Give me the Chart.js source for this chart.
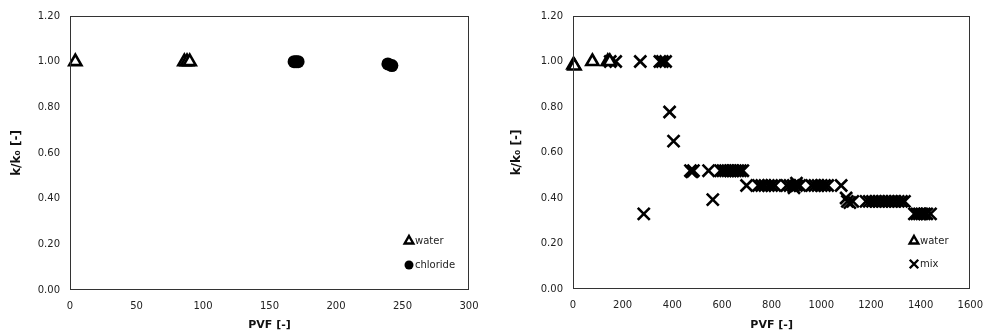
<!DOCTYPE html>
<html>
<head>
<meta charset="utf-8">
<script src="https://cdn.jsdelivr.net/npm/chart.js@4.4.1/dist/chart.umd.min.js"></script>
<style>
  html, body { margin: 0; padding: 0; background: #fff; }
  #wrap { position: relative; width: 993px; height: 336px; overflow: hidden; }
  canvas { position: absolute; top: 0; }
</style>
</head>
<body>
<div id="wrap">
  <canvas id="c1" width="496" height="336" style="left:0px"></canvas>
  <canvas id="c2" width="497" height="336" style="left:496px"></canvas>
</div>
<script>
// ---------- DATA ----------
// Left chart
const leftWaterPVF   = [4, 86, 88, 90];
const leftWaterK     = [1.00, 1.00, 1.00, 1.00];
const leftChloridePVF = [168.5, 170, 171.5, 239, 242];
const leftChlorideK   = [1.00, 1.00, 1.00, 0.99, 0.983];

// Right chart
const rightWaterPVF = [2, 6, 78, 140, 148];
const rightWaterK   = [0.985, 0.98, 1.00, 1.00, 1.00];
const rightMixPVF = [
  150, 172, 271, 350, 360, 373,
  389, 405, 285,
  473, 479, 485, 546, 594, 604, 614, 624, 634, 644, 654, 664, 674, 684,
  563,
  699, 747, 760, 773, 787, 800, 813, 861, 874, 887, 900, 913, 900, 890,
  961, 974, 987, 1000, 1013, 1026, 1080,
  1100, 1105, 1115, 1127, 1180, 1193, 1206, 1219, 1232, 1245, 1258, 1271, 1284, 1297, 1310, 1323, 1335,
  1375, 1385, 1395, 1405, 1415, 1425, 1440
];
const rightMixK = [
  1.00, 1.00, 1.00, 1.00, 1.00, 1.00,
  0.778, 0.65, 0.33,
  0.52, 0.515, 0.52, 0.52, 0.52, 0.52, 0.52, 0.52, 0.52, 0.52, 0.52, 0.52, 0.52, 0.52,
  0.393,
  0.455, 0.455, 0.455, 0.455, 0.455, 0.455, 0.455, 0.455, 0.455, 0.455, 0.455, 0.455, 0.465, 0.445,
  0.455, 0.455, 0.455, 0.455, 0.455, 0.455, 0.455,
  0.40, 0.385, 0.38, 0.385, 0.385, 0.385, 0.385, 0.385, 0.385, 0.385, 0.385, 0.385, 0.385, 0.385, 0.385, 0.385, 0.385,
  0.33, 0.33, 0.33, 0.33, 0.33, 0.33, 0.33
];

const yTicks = [0, 0.2, 0.4, 0.6, 0.8, 1.0, 1.2];
const xTitle = 'PVF [-]';
const yTitle = 'k/k\u2080 [-]';

// ---------- HELPERS ----------
function pts(xs, ys) { return xs.map((x, i) => ({ x: x, y: ys[i] })); }

const TICK_FONT = { family: 'DejaVu Sans', size: 10 };
const TITLE_FONT = { family: 'DejaVu Sans', size: 11, weight: 'bold' };
const YTITLE_FONT = { family: 'DejaVu Sans', size: 12, weight: 'bold' };

const boxPlugin = {
  id: 'box',
  afterDatasetsDraw(chart) {
    const a = chart.chartArea, ctx = chart.ctx;
    ctx.save();
    ctx.strokeStyle = '#333';
    ctx.lineWidth = 1;
    ctx.strokeRect(Math.round(a.left) + 0.5, Math.round(a.top) + 0.5,
                   Math.round(a.right - a.left) - 1, Math.round(a.bottom - a.top) - 1);
    ctx.restore();
  }
};

function drawSymbol(ctx, style, x, y, r) {
  ctx.save();
  ctx.strokeStyle = '#000';
  ctx.fillStyle = '#000';
  ctx.lineWidth = 2.4;
  ctx.beginPath();
  if (style === 'triangle') {
    ctx.moveTo(x, y - r);
    ctx.lineTo(x + r * Math.sin(2 * Math.PI / 3), y + r / 2);
    ctx.lineTo(x - r * Math.sin(2 * Math.PI / 3), y + r / 2);
    ctx.closePath();
    ctx.fillStyle = '#fff';
    ctx.fill();
    ctx.stroke();
  } else if (style === 'circle') {
    ctx.arc(x, y, r, 0, Math.PI * 2);
    ctx.fill();
  } else if (style === 'crossRot') {
    const o = r * Math.SQRT1_2;
    ctx.lineWidth = 2.4;
    ctx.moveTo(x - o, y - o); ctx.lineTo(x + o, y + o);
    ctx.moveTo(x + o, y - o); ctx.lineTo(x - o, y + o);
    ctx.stroke();
  }
  ctx.restore();
}

function legendPlugin(mx, tx, rows) {
  return {
    id: 'insideLegend',
    afterDraw(chart) {
      const ctx = chart.ctx;
      chart.data.datasets.forEach((ds, i) => {
        const y = rows[i];
        const st = ds.pointStyle;
        const r = st === 'crossRot' ? 6 : (st === 'circle' ? 4.5 : 5);
        drawSymbol(ctx, st, mx, y, r);
        ctx.save();
        ctx.fillStyle = '#222';
        ctx.font = '10px "DejaVu Sans"';
        ctx.textBaseline = 'middle';
        ctx.textAlign = 'left';
        ctx.fillText(ds.label, tx, y);
        ctx.restore();
      });
    }
  };
}

function makeOptions(xMax, xStep, yWidth, xHeight, padTop, padRight, yTitlePad) {
  return {
    responsive: false,
    animation: false,
    devicePixelRatio: 1,
    layout: { padding: { top: padTop, right: padRight, left: 0, bottom: 0 } },
    plugins: { legend: { display: false }, tooltip: { enabled: false } },
    scales: {
      x: {
        type: 'linear', min: 0, max: xMax,
        grid: { display: false, drawTicks: false },
        border: { display: false },
        ticks: { stepSize: xStep, font: TICK_FONT, color: '#222', padding: 10, maxRotation: 0,
                 callback: v => String(Math.round(v)) },
        title: { display: true, text: xTitle, font: TITLE_FONT, color: '#111', padding: { top: 0, bottom: 4.5 } },
        afterFit(s) { s.height = xHeight; }
      },
      y: {
        type: 'linear', min: 0, max: 1.2,
        afterBuildTicks(s) { s.ticks = yTicks.map(v => ({ value: v })); },
        grid: { display: false, drawTicks: false },
        border: { display: false },
        ticks: { font: TICK_FONT, color: '#222', padding: 10, callback: v => Number(v).toFixed(2) },
        title: { display: true, text: yTitle, font: YTITLE_FONT, color: '#111', padding: { top: yTitlePad, bottom: 0 } },
        afterFit(s) { s.width = yWidth; }
      }
    }
  };
}

// ---------- LEFT CHART ----------
new Chart(document.getElementById('c1'), {
  type: 'scatter',
  data: {
    datasets: [
      {
        label: 'water', data: pts(leftWaterPVF, leftWaterK),
        pointStyle: 'triangle', pointRadius: 7, pointBorderWidth: 2.6,
        pointBackgroundColor: '#fff', pointBorderColor: '#000', clip: false, order: 1
      },
      {
        label: 'chloride', data: pts(leftChloridePVF, leftChlorideK),
        pointStyle: 'circle', pointRadius: 6.5, pointBorderWidth: 0,
        pointBackgroundColor: '#000', pointBorderColor: '#000', clip: false, order: 2
      }
    ]
  },
  options: makeOptions(300, 50, 70, 46, 9, 27, 10),
  plugins: [boxPlugin, legendPlugin(409, 415, [241, 265])]
});

// ---------- RIGHT CHART ----------
new Chart(document.getElementById('c2'), {
  type: 'scatter',
  data: {
    datasets: [
      {
        label: 'water', data: pts(rightWaterPVF, rightWaterK),
        pointStyle: 'triangle', pointRadius: 7, pointBorderWidth: 2.6,
        pointBackgroundColor: '#fff', pointBorderColor: '#000', clip: false, order: 1
      },
      {
        label: 'mix', data: pts(rightMixPVF, rightMixK),
        pointStyle: 'crossRot', pointRadius: 8.5, pointBorderWidth: 2.6,
        pointBackgroundColor: '#000', pointBorderColor: '#000', clip: false, order: 2
      }
    ]
  },
  options: makeOptions(1600, 200, 77, 47, 8, 21, 14),
  plugins: [boxPlugin, legendPlugin(418, 424, [241, 264])]
});
</script>
</body>
</html>
